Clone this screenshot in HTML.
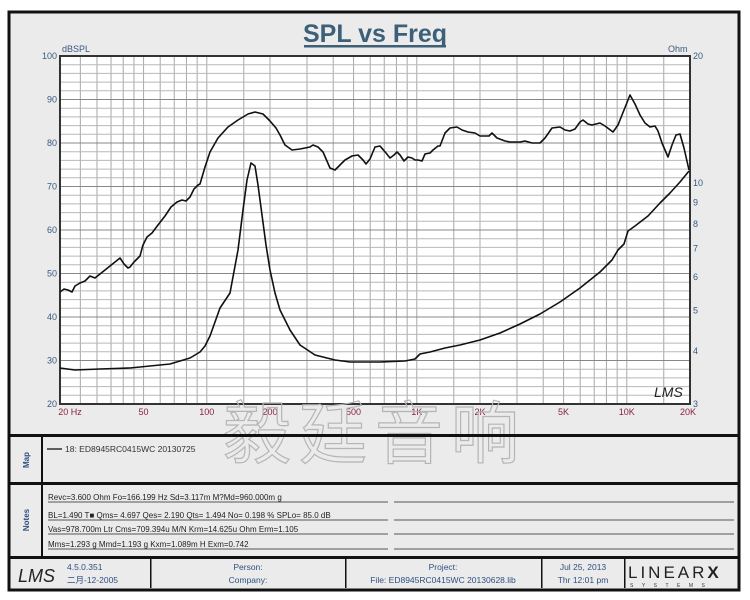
<!DOCTYPE html>
<html><head><meta charset="utf-8"><style>
body{margin:0;background:#fff;width:750px;height:600px;overflow:hidden}
svg{display:block}
text{font-family:"Liberation Sans",Arial,sans-serif}
</style></head><body>
<svg id="s" width="750" height="600" xmlns="http://www.w3.org/2000/svg">
<rect x="9" y="12" width="730" height="578" fill="#ebebeb" stroke="#111" stroke-width="3"/>
<rect x="60" y="56" width="630" height="348" fill="#fff"/>
<g id="grid" stroke="#a8a8a8" stroke-width="1"></g>
<rect x="60" y="56" width="630" height="348" fill="none" stroke="#333" stroke-width="2"/>
<text x="375" y="42" text-anchor="middle" font-size="25" font-weight="bold" fill="#3d5f78">SPL vs Freq</text>
<rect x="304" y="45" width="142" height="2.5" fill="#3d5f78"/>
<text x="62" y="52" font-size="9" fill="#3a5a80">dBSPL</text>
<text x="668" y="52" font-size="9" fill="#3a5a80">Ohm</text>
<g id="ylab" font-size="9" fill="#3a5a80" text-anchor="end"></g>
<g id="rlab" font-size="9" fill="#3a5a80"></g>
<g id="xlab" font-size="9" fill="#8b2045" text-anchor="middle"></g>
<polyline fill="none" stroke="#111" stroke-width="1.6" stroke-linejoin="round" points="60,292 64,289 68,290 72,292 75,286 80,283 85,281 90,276 95,278 100,274 105,270 110,266 115,262 120,258 124,264 128,268 130,267 134,262 138,258 140,256 143,245 147,237 152,233 158,225 165,216 171,207 177,202 182,200 186,201 190,197 194,189 198,185 200,184 205,167 210,152 218,138 228,127 238,120 248,114 255,112 263,114 270,121 276,128 280,135 285,145 292,150 300,149 310,147 313,145 318,147 323,152 330,168 335,170 340,165 345,160 352,156 358,155 363,160 366,164 370,159 375,147 380,146 386,153 390,158 394,155 397,152 400,155 404,161 408,157 412,158 415,160 418,160 422,161 425,154 430,153 433,150 438,146 440,146 445,133 450,128 457,127 462,130 468,132 475,133 480,136 489,136 492,133 497,138 505,141 510,142 520,142 525,141 532,143 540,143 545,138 552,128 560,127 565,130 570,131 575,129 580,122 583,120 588,124 592,125 600,123 605,126 613,132 618,125 622,115 626,105 630,95 635,104 640,115 645,123 650,127 655,126 658,131 662,143 668,157 672,145 676,135 680,134 684,148 689,170"/>
<polyline fill="none" stroke="#111" stroke-width="1.6" stroke-linejoin="round" points="60,368 75,370 100,369 130,368 150,366 170,364 180,361 190,358 200,352 205,346 210,336 215,322 220,308 230,293 238,250 243,210 247,180 251,163 255,166 258,185 262,215 266,245 270,270 275,293 280,310 290,330 300,345 315,355 335,360 350,362 380,362 405,361 415,359 420,354 430,352 445,348 460,345 480,340 500,333 520,324 540,314 560,302 580,288 600,272 612,260 618,250 624,244 628,231 635,226 648,216 660,203 670,193 680,182 689,171"/>
<text x="654" y="397" font-size="14" font-style="italic" fill="#222" font-family="Liberation Serif">LMS</text>
<text x="375" y="458" text-anchor="middle" font-size="68" fill="none" stroke="#b5b5b5" stroke-width="1.2" font-family="'Noto Serif CJK SC',serif" letter-spacing="8">毅廷音响</text>
<!-- panels -->
<rect x="9" y="434" width="730" height="3" fill="#111"/>
<rect x="9" y="482" width="730" height="3" fill="#111"/>
<rect x="9" y="556" width="730" height="3" fill="#111"/>
<rect x="41" y="434" width="2" height="124" fill="#111"/>
<text transform="translate(29,460) rotate(-90)" font-size="8" font-weight="bold" fill="#2f4f7f" text-anchor="middle">Map</text>
<text transform="translate(29,520) rotate(-90)" font-size="8" font-weight="bold" fill="#2f4f7f" text-anchor="middle">Notes</text>
<line x1="47" y1="449" x2="62" y2="449" stroke="#111" stroke-width="1.3"/>
<text x="65" y="452" font-size="8.5" fill="#333">18: ED8945RC0415WC   20130725</text>
<g font-size="8" fill="#222">
<text x="48" y="500">Revc=3.600 Ohm  Fo=166.199 Hz  Sd=3.117m M?Md=960.000m g</text>
<text x="48" y="518">BL=1.490 T■  Qms= 4.697  Qes= 2.190  Qts= 1.494  No= 0.198 %  SPLo= 85.0 dB</text>
<text x="48" y="532">Vas=978.700m Ltr  Cms=709.394u M/N  Krm=14.625u Ohm  Erm=1.105</text>
<text x="48" y="547">Mms=1.293 g  Mmd=1.193 g  Kxm=1.089m H  Exm=0.742</text>
</g>
<g stroke="#555" stroke-width="1">
<line x1="48" y1="502" x2="388" y2="502"/><line x1="394" y1="502" x2="734" y2="502"/>
<line x1="48" y1="520" x2="388" y2="520"/><line x1="394" y1="520" x2="734" y2="520"/>
<line x1="48" y1="534" x2="388" y2="534"/><line x1="394" y1="534" x2="734" y2="534"/>
<line x1="48" y1="549" x2="388" y2="549"/><line x1="394" y1="549" x2="734" y2="549"/>
</g>
<g fill="#111">
<rect x="150" y="558" width="1.5" height="30"/><rect x="345" y="558" width="1.5" height="30"/>
<rect x="541" y="558" width="1.5" height="30"/><rect x="624" y="558" width="1.5" height="30"/>
</g>
<text x="18" y="582" font-size="18" font-style="italic" fill="#222" font-family="Liberation Serif">LMS</text>
<g font-size="8.5" fill="#2f4f7f" font-family="'Liberation Sans','Noto Sans CJK SC',sans-serif">
<text x="67" y="570">4.5.0.351</text><text x="67" y="583">二月-12-2005</text>
<text x="248" y="570" text-anchor="middle">Person:</text><text x="248" y="583" text-anchor="middle">Company:</text>
<text x="443" y="570" text-anchor="middle">Project:</text><text x="443" y="583" text-anchor="middle">File: ED8945RC0415WC  20130628.lib</text>
<text x="583" y="570" text-anchor="middle">Jul 25, 2013</text><text x="583" y="583" text-anchor="middle">Thr 12:01 pm</text>
</g>
<text x="628" y="578" font-size="17" fill="#222" letter-spacing="3" font-family="Liberation Serif">LINEAR<tspan font-weight="bold" font-family="Liberation Sans">X</tspan></text>
<text x="630" y="587" font-size="5" fill="#333" letter-spacing="8.5">SYSTEMS</text>
</svg>
<script>
var NS="http://www.w3.org/2000/svg";
function el(p,t,a,txt){var e=document.createElementNS(NS,t);for(var k in a)e.setAttribute(k,a[k]);if(txt)e.textContent=txt;document.getElementById(p).appendChild(e);}
function fx(f){return 60+210*Math.log10(f/20);}
var fs=[25,30,35,40,45,50,60,70,80,90,100,150,200,300,400,500,600,700,800,900,1000,1500,2000,3000,4000,5000,6000,7000,8000,9000,10000,15000];
fs.forEach(function(f){var x=fx(f);el("grid","line",{x1:x,y1:56,x2:x,y2:404});});
for(var d=22;d<100;d+=2){var y=404-(d-20)*348/80;el("grid","line",{x1:60,y1:y,x2:690,y2:y,stroke:(d%10==0?"#888":"#b8b8b8")});}
for(var d=20;d<=100;d+=10){var y=404-(d-20)*348/80;el("ylab","text",{x:57,y:y+3},String(d));}
[3,4,5,6,7,8,9,10,20].forEach(function(o){var y=404-348*Math.log(o/3)/Math.log(20/3);el("rlab","text",{x:693,y:y+3},String(o));});
[[20,"20  Hz"],[50,"50"],[100,"100"],[200,"200"],[500,"500"],[1000,"1K"],[2000,"2K"],[5000,"5K"],[10000,"10K"],[20000,"20K"]].forEach(function(a){var x=fx(a[0]);if(a[0]==20)x=70;if(a[0]==20000)x=688;el("xlab","text",{x:x,y:415},a[1]);});
</script>
</body></html>
